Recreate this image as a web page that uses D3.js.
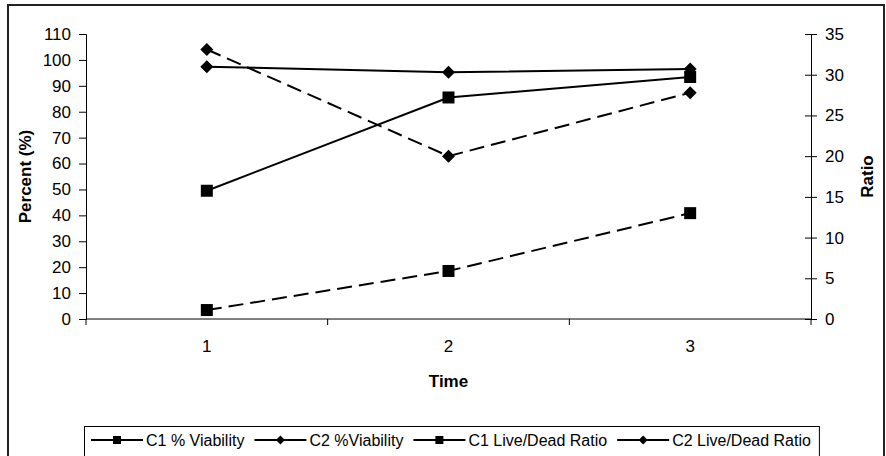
<!DOCTYPE html>
<html>
<head>
<meta charset="utf-8">
<script src="https://cdn.jsdelivr.net/npm/d3@7"></script>
<style>
  body { margin: 0; background: #fff; }
  text { font-family: "Liberation Sans", Arial, sans-serif; fill: #000; }
</style>
</head>
<body>
<div id="mainDiv"></div>
<script>
var times = [1, 2, 3];
var c1Viability = [49.5, 85.5, 93.4];
var c2Viability = [97.4, 95.2, 96.5];
var c1Ratio = [1.1, 5.9, 13.0];
var c2Ratio = [33.1, 20.0, 27.8];
var percentTicks = d3.range(0, 111, 10);
var ratioTicks = d3.range(0, 36, 5);

var series = [
    { name: "C1 % Viability", values: c1Viability, axis: "left", dash: null, marker: "square" },
    { name: "C2 %Viability", values: c2Viability, axis: "left", dash: null, marker: "diamond" },
    { name: "C1 Live/Dead Ratio", values: c1Ratio, axis: "right", dash: "15,7", marker: "square" },
    { name: "C2 Live/Dead Ratio", values: c2Ratio, axis: "right", dash: "15,7", marker: "diamond" }
];

var svg = d3.select("#mainDiv").append("svg").attr("width", 886).attr("height", 456);

// outer frame
svg.append("rect").attr("x", 8).attr("y", 5).attr("width", 876).attr("height", 470)
    .attr("fill", "none").attr("stroke", "#222").attr("stroke-width", 2);

var plotLeft = 86, plotRight = 811, plotTop = 34, plotBottom = 319;

var x = d3.scaleBand().domain(times).range([plotLeft, plotRight]);
var yL = d3.scaleLinear().domain([0, 110]).range([plotBottom, plotTop]);
var yR = d3.scaleLinear().domain([0, 35]).range([plotBottom, plotTop]);

// left axis
var gL = svg.append("g").attr("transform", "translate(" + plotLeft + ",0)")
    .call(d3.axisLeft(yL).tickValues(percentTicks).tickSize(7).tickPadding(8));
// right axis
var gR = svg.append("g").attr("transform", "translate(" + plotRight + ",0)")
    .call(d3.axisRight(yR).tickValues(ratioTicks).tickSize(6).tickPadding(8));
gR.selectAll(".tick line").attr("x1", -6);
// x axis labels
var gX = svg.append("g").attr("transform", "translate(0," + plotBottom + ")")
    .call(d3.axisBottom(x).tickSize(0).tickPadding(21));
gX.select(".domain").remove();
svg.append("line").attr("x1", plotLeft).attr("x2", plotRight).attr("y1", plotBottom).attr("y2", plotBottom)
    .attr("stroke", "#000");
var bounds = times.map(function(t) { return x(t); }).concat([plotRight]);
svg.selectAll(".xtick").data(bounds).enter().append("line")
    .attr("x1", function(d) { return d; }).attr("x2", function(d) { return d; })
    .attr("y1", plotBottom).attr("y2", plotBottom + 6).attr("stroke", "#000");

[gL, gR, gX].forEach(function(g) {
    g.selectAll(".domain").attr("stroke", "#000");
    g.selectAll(".tick line").attr("stroke", "#000");
    g.selectAll("text").style("font-size", "17px").attr("font-family", null);
});

// axis titles
svg.append("text").attr("transform", "translate(31," + (plotTop + plotBottom) / 2 + ") rotate(-90)")
    .attr("text-anchor", "middle").style("font-size", "17px").style("font-weight", "bold")
    .text("Percent (%)");
svg.append("text").attr("transform", "translate(873," + (plotTop + plotBottom) / 2 + ") rotate(-90)")
    .attr("text-anchor", "middle").style("font-size", "17px").style("font-weight", "bold")
    .text("Ratio");
svg.append("text").attr("x", (plotLeft + plotRight) / 2).attr("y", 387)
    .attr("text-anchor", "middle").style("font-size", "17px").style("font-weight", "bold")
    .text("Time");

function markerPath(type, size) {
    var h = size / 2;
    if (type === "square") return "M" + -h + "," + -h + "H" + h + "V" + h + "H" + -h + "Z";
    return "M0," + -h + "L" + h + ",0L0," + h + "L" + -h + ",0Z";
}

var cx = function(t) { return x(t) + x.bandwidth() / 2; };

series.forEach(function(s) {
    var y = s.axis === "left" ? yL : yR;
    var line = d3.line().x(function(d, i) { return cx(times[i]); }).y(function(d) { return y(d); });
    svg.append("path").attr("d", line(s.values)).attr("fill", "none")
        .attr("stroke", "#000").attr("stroke-width", 2)
        .attr("stroke-dasharray", s.dash);
    svg.selectAll(null).data(s.values).enter().append("path")
        .attr("d", markerPath(s.marker, s.marker === "square" ? 12 : 13))
        .attr("transform", function(d, i) { return "translate(" + cx(times[i]) + "," + y(d) + ")"; })
        .attr("fill", "#000");
});

// legend
var legend = svg.append("g");
var box = legend.append("rect").attr("x", 84.5).attr("y", 426.5).attr("height", 40)
    .attr("fill", "#fff").attr("stroke", "#000");
var lx = 91, ly = 440;
series.forEach(function(s) {
    legend.append("line").attr("x1", lx).attr("x2", lx + 52).attr("y1", ly).attr("y2", ly)
        .attr("stroke", "#000").attr("stroke-width", 2);
    legend.append("path").attr("d", markerPath(s.marker, s.marker === "square" ? 8 : 9))
        .attr("transform", "translate(" + (lx + 26) + "," + ly + ")").attr("fill", "#000");
    var t = legend.append("text").attr("x", lx + 55).attr("y", ly + 6)
        .style("font-size", "16px").text(s.name);
    lx = lx + 55 + t.node().getComputedTextLength() + 10;
});
box.attr("width", lx - 84 - 2);
</script>
</body>
</html>
